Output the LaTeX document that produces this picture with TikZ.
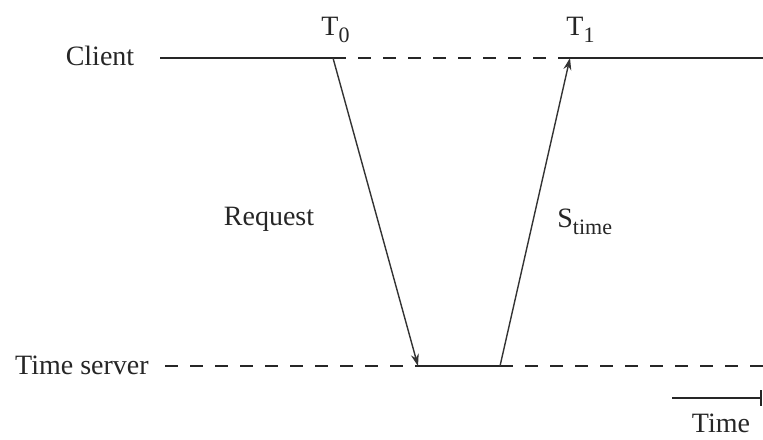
\documentclass[tikz,border=0pt]{standalone}
\usepackage{fontspec}
\setmainfont{Liberation Serif}
\usetikzlibrary{arrows.meta}
\newcommand\lowsub[1]{\raisebox{-3.6pt}{\fontsize{11}{12}\selectfont #1}}
\begin{document}
\begin{tikzpicture}[x=0.5pt,y=-0.5pt,
  timeline/.style={line width=1pt,black!85},
  dashline/.style={line width=1pt,black!85,dash pattern=on 6.5pt off 6pt},
  msg/.style={line width=0.7pt,black!80,-{Stealth[length=6pt,width=4pt]}},
  lbl/.style={inner sep=0pt,text=black!85,font=\fontsize{14}{16}\selectfont}]
\useasboundingbox (0,0) rectangle (763,439);
\coordinate (cs) at (160,58);
\coordinate (t0) at (333,58);
\coordinate (t1) at (570,58);
\coordinate (ce) at (763,58);
\coordinate (ss) at (165,366);
\coordinate (s0) at (418,366);
\coordinate (s1) at (500,366);
\coordinate (se) at (763,366);
\coordinate (ta) at (672,398);
\coordinate (tb) at (762,398);
\node[lbl,anchor=base] (client) at (100,65) {Client};
\node[lbl,anchor=base] (server) at (82,374) {Time server};
\node[lbl,anchor=base west] (T0) at (321,35) {T\lowsub{0}};
\node[lbl,anchor=base west] (T1) at (566,35) {T\lowsub{1}};
\node[lbl,anchor=base] (req) at (269,225) {Request};
\node[lbl,anchor=base west] (stime) at (557,227) {S\lowsub{time}};
\node[lbl,anchor=base] (time) at (721,432) {Time};
\draw[timeline] (cs) -- (t0);
\draw[dashline] (t0) -- (t1);
\draw[timeline] (t1) -- (ce);
\draw[dashline] (ss) -- (s0);
\draw[timeline] (s0) -- (s1);
\draw[dashline] (s1) -- (se);
\draw[msg] (t0) -- (s0);
\draw[msg] (s1) -- (t1);
\draw[timeline,-{Bar[width=8pt]}] (ta) -- (tb);
\end{tikzpicture}
\end{document}
